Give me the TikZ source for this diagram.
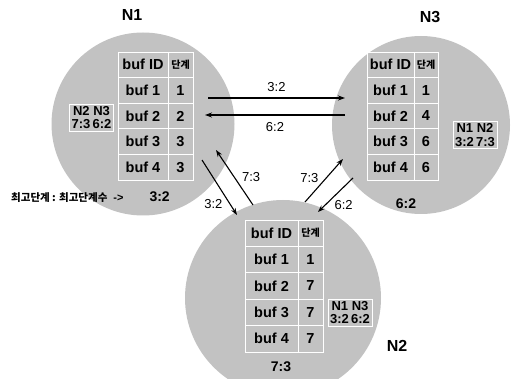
\documentclass[tikz,border=0pt]{standalone}
\usepackage{fontspec}
\setmainfont{Liberation Sans}
\newfontfamily\kofont{Noto Sans CJK KR}
\usetikzlibrary{arrows.meta}
\definecolor{bufgray}{HTML}{C2C2C2}

\begin{document}
\begin{tikzpicture}[
    x=1pt, y=-1pt,
    sitenode/.style={circle, fill=bufgray, inner sep=0pt},
    cellnode/.style={draw=white, line width=0.7pt, inner sep=0pt, minimum height=25.6pt, font=\fontsize{14.5}{14}\selectfont\bfseries},
    idcell/.style={cellnode, minimum width=50pt},
    lvcell/.style={cellnode, minimum width=25pt},
    hdcell/.style={cellnode, minimum width=25pt, font=\kofont\fontsize{10}{10}\selectfont\bfseries},
    peerbox/.style={draw=white, line width=0.7pt, inner sep=2pt, align=center, font=\fontsize{13}{13.5}\selectfont\bfseries},
    sitelabel/.style={font=\fontsize{16}{16}\selectfont\bfseries},
    msglabel/.style={font=\fontsize{13}{13}\selectfont, inner sep=1pt},
    msg/.style={draw=black, line width=1.1pt, -{Stealth[length=7pt,width=5pt]}}
]
    \useasboundingbox (0,0) rectangle (511,379);

    % Sfondi dei siti
    \node[sitenode, minimum size=183pt] (N1) at (143,124) {};
    \node[sitenode, minimum size=178pt] (N3) at (421,125) {};
    \node[sitenode, minimum size=196pt] (N2) at (283,298) {};

    % Etichette dei siti
    \node[sitelabel] (N1name) at (132,15) {N1};
    \node[sitelabel] (N3name) at (430,17) {N3};
    \node[sitelabel] (N2name) at (397,346) {N2};

    % Tabella N1
    \node[idcell] (n1id) at (143,64.8) {buf ID};
    \node[hdcell] (n1lv) at (180.5,64.8) {단계};
    \node[idcell] (n1buf1) at (143,90.4) {buf 1};
    \node[lvcell] (n1lv1) at (180.5,90.4) {1};
    \node[idcell] (n1buf2) at (143,116) {buf 2};
    \node[lvcell] (n1lv2) at (180.5,116) {2};
    \node[idcell] (n1buf3) at (143,141.6) {buf 3};
    \node[lvcell] (n1lv3) at (180.5,141.6) {3};
    \node[idcell] (n1buf4) at (143,167.2) {buf 4};
    \node[lvcell] (n1lv4) at (180.5,167.2) {3};
    \node[peerbox] (n1peer) at (91.5,117.5) {N2 N3\\7:3\,6:2};

    % Tabella N3
    \node[idcell, minimum width=47pt] (n3id) at (390.5,64.8) {buf ID};
    \node[hdcell, minimum width=24pt] (n3lv) at (426,64.8) {단계};
    \node[idcell, minimum width=47pt] (n3buf1) at (390.5,90.4) {buf 1};
    \node[lvcell, minimum width=24pt] (n3lv1) at (426,90.4) {1};
    \node[idcell, minimum width=47pt] (n3buf2) at (390.5,116) {buf 2};
    \node[lvcell, minimum width=24pt] (n3lv2) at (426,116) {4};
    \node[idcell, minimum width=47pt] (n3buf3) at (390.5,141.6) {buf 3};
    \node[lvcell, minimum width=24pt] (n3lv3) at (426,141.6) {6};
    \node[idcell, minimum width=47pt] (n3buf4) at (390.5,167.2) {buf 4};
    \node[lvcell, minimum width=24pt] (n3lv4) at (426,167.2) {6};
    \node[peerbox] (n3peer) at (475,135) {N1 N2\\3:2\,7:3};
    \node[msglabel, font=\fontsize{14}{14}\selectfont\bfseries] (n3max) at (406,204) {6:2};

    % Tabella N2
    \node[idcell, minimum width=53pt, minimum height=26.4pt] (n2id) at (271.5,233.2) {buf ID};
    \node[hdcell, minimum height=26.4pt] (n2lv) at (310.5,233.2) {단계};
    \node[idcell, minimum width=53pt, minimum height=26.4pt] (n2buf1) at (271.5,259.6) {buf 1};
    \node[lvcell, minimum height=26.4pt] (n2lv1) at (310.5,259.6) {1};
    \node[idcell, minimum width=53pt, minimum height=26.4pt] (n2buf2) at (271.5,286) {buf 2};
    \node[lvcell, minimum height=26.4pt] (n2lv2) at (310.5,286) {7};
    \node[idcell, minimum width=53pt, minimum height=26.4pt] (n2buf3) at (271.5,312.4) {buf 3};
    \node[lvcell, minimum height=26.4pt] (n2lv3) at (310.5,312.4) {7};
    \node[idcell, minimum width=53pt, minimum height=26.4pt] (n2buf4) at (271.5,338.8) {buf 4};
    \node[lvcell, minimum height=26.4pt] (n2lv4) at (310.5,338.8) {7};
    \node[peerbox] (n2peer) at (350,312.5) {N1 N3\\3:2\,6:2};
    \node[msglabel, font=\fontsize{14}{14}\selectfont\bfseries] (n2max) at (281,367) {7:3};

    % Legenda in basso a sinistra
    \node[anchor=west, inner sep=0pt, font=\bfseries] (legend) at (11,197)
        {{\kofont\fontsize{10.5}{11}\selectfont 최고단계 : 최고단계수}\hspace{6pt}{\fontsize{11}{11}\selectfont ->}\hspace{26pt}{\fontsize{14}{14}\selectfont 3:2}};

    % Estremi dei messaggi
    \coordinate (m1s) at (208,98);   \coordinate (m1e) at (345,98);
    \coordinate (m2s) at (345,115);  \coordinate (m2e) at (205,115);
    \coordinate (m3s) at (253,205);  \coordinate (m3e) at (216,150);
    \coordinate (m4s) at (202,160);  \coordinate (m4e) at (237,215);
    \coordinate (m5s) at (305,202);  \coordinate (m5e) at (343,159);
    \coordinate (m6s) at (353,178);  \coordinate (m6e) at (318,212);

    % Messaggi tra i siti
    \draw[msg] (m1s) -- node[msglabel, above=5pt] {3:2} (m1e);
    \draw[msg] (m2s) -- node[msglabel, below=6pt] {6:2} (m2e);
    \draw[msg] (m3s) -- node[msglabel, right=6pt] {7:3} (m3e);
    \draw[msg] (m4s) -- node[msglabel, pos=0.8, left=6pt] {3:2} (m4e);
    \draw[msg] (m5s) -- node[msglabel, pos=0.55, left=6pt] {7:3} (m5e);
    \draw[msg] (m6s) -- node[msglabel, pos=0.8, right=8pt] {6:2} (m6e);

\end{tikzpicture}
\end{document}
